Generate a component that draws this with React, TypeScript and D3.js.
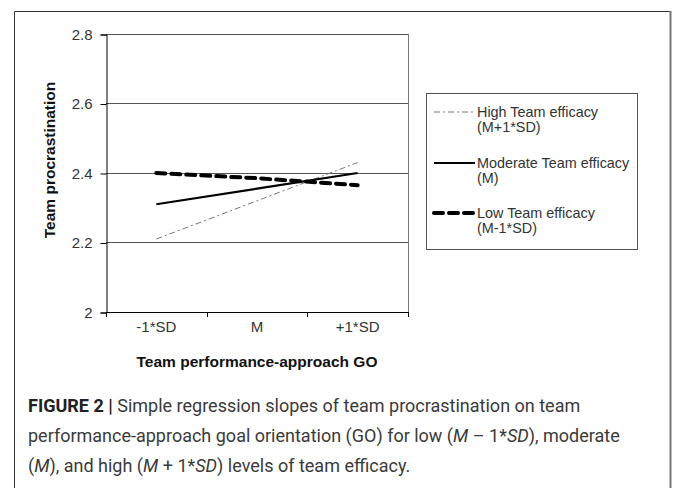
import React, { useEffect, useRef } from 'react';
import * as d3 from 'd3';

// Chart values
const categories = ['-1*SD', 'M', '+1*SD'];
const highEfficacy = [2.21, 2.32, 2.43];
const moderateEfficacy = [2.31, 2.355, 2.4];
const lowEfficacy = [2.4, 2.385, 2.365];
const yTicks = [2, 2.2, 2.4, 2.6, 2.8];
const legendLabels = [
  ['High Team efficacy', '(M+1*SD)'],
  ['Moderate Team efficacy', '(M)'],
  ['Low Team efficacy', '(M-1*SD)'],
];

const App: React.FC = () => {
  const ref = useRef<SVGSVGElement>(null);

  useEffect(() => {
    if (!ref.current) return;
    const svg = d3.select(ref.current);
    svg.selectAll('*').remove();

    const font = 'Arial, "Liberation Sans", sans-serif';

    // outer frame
    svg.append('path')
      .attr('d', 'M14.5,488 L14.5,11.5 L670,11.5')
      .attr('fill', 'none')
      .attr('stroke', '#333')
      .attr('stroke-width', 1);
    svg.append('line')
      .attr('x1', 670.5).attr('x2', 670.5)
      .attr('y1', 11).attr('y2', 488)
      .attr('stroke', '#777')
      .attr('stroke-width', 2);

    const x = d3.scaleBand<string>().domain(categories).range([106, 408]);
    const y = d3.scaleLinear().domain([2, 2.8]).range([312, 34]);
    const cx = (c: string) => (x(c) as number) + x.bandwidth() / 2;

    // grid lines
    svg.append('g')
      .selectAll('line')
      .data(yTicks.slice(1))
      .join('line')
      .attr('x1', 106).attr('x2', 408)
      .attr('y1', d => Math.round(y(d)) + 0.5)
      .attr('y2', d => Math.round(y(d)) + 0.5)
      .attr('stroke', '#555')
      .attr('stroke-width', 1);

    // right border of plot
    svg.append('line')
      .attr('x1', 408.5).attr('x2', 408.5)
      .attr('y1', y(2.8)).attr('y2', y(2))
      .attr('stroke', '#777');

    // y axis
    const yAxis = svg.append('g')
      .attr('transform', 'translate(106.5,0.5)')
      .call(d3.axisLeft(y).tickValues(yTicks).tickSize(6).tickPadding(8)
        .tickFormat(d => d3.format('')(d as number)));
    yAxis.select('.domain').attr('stroke', '#000');
    yAxis.selectAll('.tick line').attr('stroke', '#000');
    yAxis.selectAll('text')
      .attr('font-family', font)
      .attr('font-size', 15)
      .attr('fill', '#333');

    // x axis: ticks at band edges
    const xg = svg.append('g');
    xg.append('line')
      .attr('x1', 106).attr('x2', 408)
      .attr('y1', 312.5).attr('y2', 312.5)
      .attr('stroke', '#000');
    const edges = [...categories.map(c => x(c) as number), x.range()[1]];
    xg.selectAll('line.tk')
      .data(edges)
      .join('line')
      .attr('class', 'tk')
      .attr('x1', d => Math.round(d) + 0.5).attr('x2', d => Math.round(d) + 0.5)
      .attr('y1', 312).attr('y2', 317)
      .attr('stroke', '#000');
    xg.selectAll('text')
      .data(categories)
      .join('text')
      .attr('x', d => cx(d))
      .attr('y', 332)
      .attr('text-anchor', 'middle')
      .attr('font-family', font)
      .attr('font-size', 15)
      .attr('fill', '#333')
      .text(d => d);

    // axis titles
    svg.append('text')
      .attr('x', 257)
      .attr('y', 367)
      .attr('text-anchor', 'middle')
      .attr('font-family', font)
      .attr('font-size', 15.5)
      .attr('font-weight', 'bold')
      .attr('fill', '#111')
      .text('Team performance-approach GO');
    svg.append('text')
      .attr('transform', 'translate(55,160) rotate(-90)')
      .attr('text-anchor', 'middle')
      .attr('font-family', font)
      .attr('font-size', 15.5)
      .attr('font-weight', 'bold')
      .attr('fill', '#111')
      .text('Team procrastination');

    // series
    const line = d3.line<number>()
      .x((_, i) => cx(categories[i]))
      .y(d => y(d));

    const styles = [
      { data: highEfficacy, stroke: '#777', width: 1, dash: '6,3,2,3' },
      { data: moderateEfficacy, stroke: '#000', width: 2.2, dash: null },
      { data: lowEfficacy, stroke: '#000', width: 4, dash: '9,6' },
    ];

    styles.forEach(s => {
      svg.append('path')
        .datum(s.data)
        .attr('d', line)
        .attr('fill', 'none')
        .attr('stroke', s.stroke)
        .attr('stroke-width', s.width)
        .attr('stroke-dasharray', s.dash)
        .attr('stroke-linecap', s.dash && s.width > 2 ? 'round' : 'butt');
    });

    // legend
    const lg = svg.append('g');
    lg.append('rect')
      .attr('x', 426.5).attr('y', 93.5)
      .attr('width', 211).attr('height', 156)
      .attr('fill', '#fff')
      .attr('stroke', '#555');

    const rowY = [112, 163, 213];
    styles.forEach((s, i) => {
      lg.append('line')
        .attr('x1', 434).attr('x2', 475)
        .attr('y1', rowY[i]).attr('y2', rowY[i])
        .attr('stroke', s.stroke)
        .attr('stroke-width', s.width)
        .attr('stroke-dasharray', s.dash)
        .attr('stroke-linecap', s.dash && s.width > 2 ? 'round' : 'butt');
      const t = lg.append('text')
        .attr('x', 477)
        .attr('y', rowY[i] + 5)
        .attr('font-family', font)
        .attr('font-size', 14.4)
        .attr('fill', '#333');
      t.append('tspan').text(legendLabels[i][0]);
      t.append('tspan').attr('x', 477).attr('dy', 15).text(legendLabels[i][1]);
    });

    // caption
    const capFont = '"Liberation Sans Narrow", "Roboto", Arial, sans-serif';
    const cap = svg.append('g')
      .attr('font-family', capFont)
      .attr('font-size', 18)
      .attr('fill', '#3a3a3a');
    const l1 = cap.append('text').attr('x', 28).attr('y', 412);
    l1.append('tspan').attr('font-weight', 'bold').attr('fill', '#222').text('FIGURE 2 | ');
    l1.append('tspan').text('Simple regression slopes of team procrastination on team');
    const l2 = cap.append('text').attr('x', 28).attr('y', 442);
    l2.append('tspan').text('performance-approach goal orientation (GO) for low (');
    l2.append('tspan').attr('font-style', 'italic').text('M');
    l2.append('tspan').text(' \u2013 1*');
    l2.append('tspan').attr('font-style', 'italic').text('SD');
    l2.append('tspan').text('), moderate');
    const l3 = cap.append('text').attr('x', 28).attr('y', 472);
    l3.append('tspan').text('(');
    l3.append('tspan').attr('font-style', 'italic').text('M');
    l3.append('tspan').text('), and high (');
    l3.append('tspan').attr('font-style', 'italic').text('M');
    l3.append('tspan').text(' + 1*');
    l3.append('tspan').attr('font-style', 'italic').text('SD');
    l3.append('tspan').text(') levels of team efficacy.');
  }, []);

  return (
    <svg
      ref={ref}
      width={673}
      height={488}
      style={{ position: 'absolute', left: 0, top: 0, background: '#fff' }}
    />
  );
};

export default App;
